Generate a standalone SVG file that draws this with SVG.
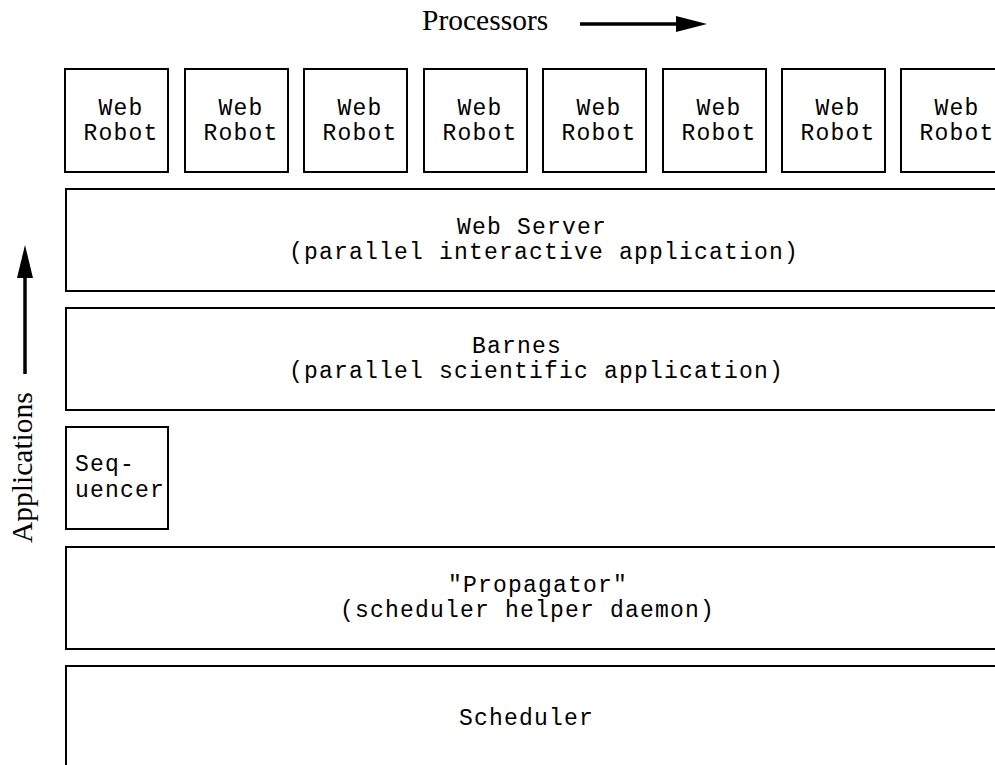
<svg xmlns="http://www.w3.org/2000/svg" width="995" height="765" viewBox="0 0 995 765">
<style>
.box{fill:#fff;stroke:#000;stroke-width:2}
.mono{font-family:"Liberation Mono","Courier New",monospace;font-size:23px;letter-spacing:1.2px;fill:#000}
.mid{text-anchor:middle}
.serif{font-family:"Liberation Serif","Times New Roman",serif;font-size:29.5px;fill:#000}
.arr{stroke:#000;stroke-width:3.5;fill:none}
</style>
<defs>
<g id="robot">
<rect class="box" x="0" y="0" width="103" height="103"/>
<text class="mono mid" x="56" y="46">Web</text>
<text class="mono mid" x="56" y="71">Robot</text>
</g>
</defs>
<rect x="0" y="0" width="995" height="765" fill="#fff"/>
<g id="labels">
<text class="serif" x="422" y="30">Processors</text>
<text class="serif" transform="translate(32,543) rotate(-90)">Applications</text>
</g>
<g id="connectors">
<line class="arr" x1="580" y1="24" x2="680" y2="24"/>
<polygon points="676,16 707,24 676,32" fill="#000"/>
<line class="arr" x1="25" y1="374" x2="25" y2="274"/>
<polygon points="17,278 25,245 33,278" fill="#000"/>
</g>
<g id="robot1"><use href="#robot" x="65" y="69"/></g>
<g id="robot2"><use href="#robot" x="185" y="69"/></g>
<g id="robot3"><use href="#robot" x="304" y="69"/></g>
<g id="robot4"><use href="#robot" x="424" y="69"/></g>
<g id="robot5"><use href="#robot" x="543" y="69"/></g>
<g id="robot6"><use href="#robot" x="663" y="69"/></g>
<g id="robot7"><use href="#robot" x="782" y="69"/></g>
<g id="robot8"><use href="#robot" x="901" y="69"/></g>
<g id="webserver">
<rect class="box" x="66" y="189" width="950" height="102"/>
<text class="mono" x="457" y="234">Web Server</text>
<text class="mono" x="289" y="259">(parallel interactive application)</text>
</g>
<g id="barnes">
<rect class="box" x="66" y="308" width="950" height="102"/>
<text class="mono" x="472" y="353">Barnes</text>
<text class="mono" x="289" y="378">(parallel scientific application)</text>
</g>
<g id="sequencer">
<rect class="box" x="66" y="427" width="102" height="102"/>
<text class="mono" x="75" y="471">Seq-</text>
<text class="mono" x="75" y="497">uencer</text>
</g>
<g id="propagator">
<rect class="box" x="66" y="547" width="950" height="102"/>
<text class="mono" x="448" y="592">"Propagator"</text>
<text class="mono" x="340" y="617">(scheduler helper daemon)</text>
</g>
<g id="scheduler">
<rect class="box" x="66" y="666" width="950" height="120"/>
<text class="mono" x="459" y="725">Scheduler</text>
</g>
</svg>
